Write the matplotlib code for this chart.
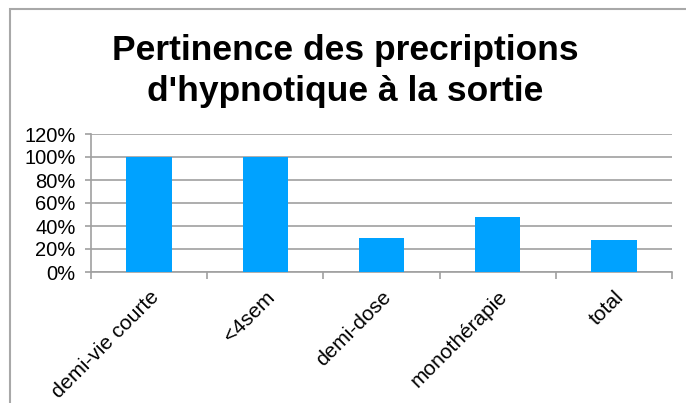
import matplotlib
matplotlib.use("Agg")
import matplotlib.pyplot as plt
from matplotlib.patches import Rectangle
from matplotlib.ticker import PercentFormatter, FixedLocator

plt.rcParams['font.family'] = ['Liberation Sans', 'DejaVu Sans']

# Data
categories = ["demi-vie courte", "<4sem", "demi-dose", "monothérapie", "total"]
values = [100, 100, 30, 48, 28]
yticks = [0, 20, 40, 60, 80, 100, 120]

fig = plt.figure(figsize=(6.86, 4.03), dpi=100)

# outer chart frame (cut off on the right and bottom)
fig.patches.append(Rectangle((10 / 686, -0.1), 1.2, 1 - 9 / 403 + 0.1,
                             transform=fig.transFigure, fill=False,
                             edgecolor="#a8a8a8", linewidth=1.5))

ax = fig.add_axes([91 / 686, 1 - 272 / 403, (672 - 91) / 686, (272 - 134) / 403])

x = range(len(categories))
ax.bar(x, values, width=0.39, color="#00a2ff", zorder=3)

ax.set_xlim(-0.5, len(categories) - 0.5)
ax.set_ylim(0, 120)
ax.set_yticks(yticks)
ax.yaxis.set_major_formatter(PercentFormatter(decimals=0))
ax.grid(axis="y", color="#a0a0a0", linewidth=1.2, zorder=0)

ax.set_xticks(list(x))
ax.set_xticklabels(categories, rotation=45, ha="right", rotation_mode="anchor")
ax.xaxis.set_minor_locator(FixedLocator([i - 0.5 for i in range(len(categories) + 1)]))
ax.tick_params(axis="x", which="major", length=0, pad=11, labelsize=15)
ax.tick_params(axis="x", which="minor", length=5, color="#a0a0a0", width=1.2)
ax.tick_params(axis="y", length=4, color="#a0a0a0", width=1.2, labelsize=14.5, pad=7)

for side in ["top", "right"]:
    ax.spines[side].set_visible(False)
for side in ["left", "bottom"]:
    ax.spines[side].set_color("#a0a0a0")
    ax.spines[side].set_linewidth(1.2)

fig.text(0.503, 1 - 71 / 403, "Pertinence des precriptions\nd'hypnotique à la sortie",
         ha="center", va="center", fontsize=25.5, fontweight="bold", linespacing=1.32)

fig.savefig("out.png", dpi=100)
